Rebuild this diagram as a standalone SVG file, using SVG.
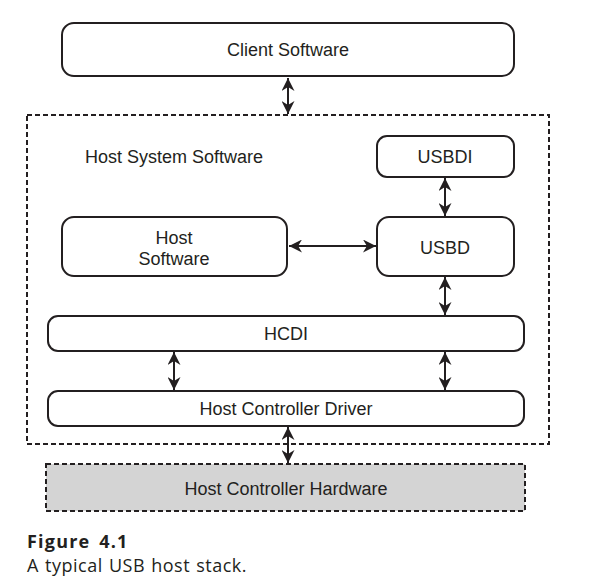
<svg xmlns="http://www.w3.org/2000/svg" width="592" height="582" viewBox="0 0 592 582">
<style>
.box{fill:#fff;stroke:#231f20;stroke-width:2}
.dash{fill:none;stroke:#231f20;stroke-width:2;stroke-dasharray:5 3}
.hw{fill:#d4d4d4;stroke:#231f20;stroke-width:2;stroke-dasharray:5 3}
.t{font-family:"Liberation Sans",Arial,sans-serif;font-size:18px;fill:#231f20;text-anchor:middle}
.c{stroke:#231f20;stroke-width:2;fill:none;marker-start:url(#a);marker-end:url(#a)}
.cap{font-family:"Open Sans","Noto Sans",sans-serif;fill:#231f20;font-size:18px}
</style>
<defs>
<marker id="a" viewBox="0 0 10 10" refX="10" refY="5" markerWidth="6.5" markerHeight="6.5" orient="auto-start-reverse" markerUnits="strokeWidth">
<path d="M0,0 L10,5 L0,10 L3,5 Z" fill="#231f20"/>
</marker>
</defs>
<rect width="592" height="582" fill="#fff"/>
<g id="host-system">
<rect class="dash" x="27" y="115" width="522" height="329"/>
<text class="t" x="85" y="163" style="text-anchor:start">Host System Software</text>
</g>
<g id="client">
<rect class="box" x="62" y="23" width="452" height="53" rx="12"/>
<text class="t" x="288" y="56">Client Software</text>
</g>
<g id="usbdi">
<rect class="box" x="377" y="136" width="137" height="41" rx="10"/>
<text class="t" x="445" y="163">USBDI</text>
</g>
<g id="hostsw">
<rect class="box" x="62" y="217" width="225" height="59" rx="12"/>
<text class="t" x="174" y="244">Host</text>
<text class="t" x="174" y="265">Software</text>
</g>
<g id="usbd">
<rect class="box" x="377" y="217" width="137" height="59" rx="12"/>
<text class="t" x="445" y="254">USBD</text>
</g>
<g id="hcdi">
<rect class="box" x="48" y="316" width="476" height="35" rx="10"/>
<text class="t" x="286" y="340">HCDI</text>
</g>
<g id="hcd">
<rect class="box" x="48" y="391" width="476" height="35" rx="10"/>
<text class="t" x="286" y="415">Host Controller Driver</text>
</g>
<g id="hch">
<rect class="hw" x="46" y="464" width="479" height="47"/>
<text class="t" x="286" y="495">Host Controller Hardware</text>
</g>
<g id="connectors">
<line class="c" x1="288" y1="78" x2="288" y2="114"/>
<line class="c" x1="445" y1="178" x2="445" y2="216"/>
<line class="c" x1="289" y1="246" x2="376" y2="246"/>
<line class="c" x1="445" y1="277" x2="445" y2="315"/>
<line class="c" x1="174" y1="352" x2="174" y2="390"/>
<line class="c" x1="445" y1="352" x2="445" y2="390"/>
<line class="c" x1="288" y1="427" x2="288" y2="463"/>
</g>
<text class="cap" x="27" y="548" style="font-weight:bold;letter-spacing:1.2px;word-spacing:3px">Figure 4.1</text>
<text class="cap" x="27" y="572" style="letter-spacing:0.5px;word-spacing:1px">A typical USB host stack.</text>
</svg>
